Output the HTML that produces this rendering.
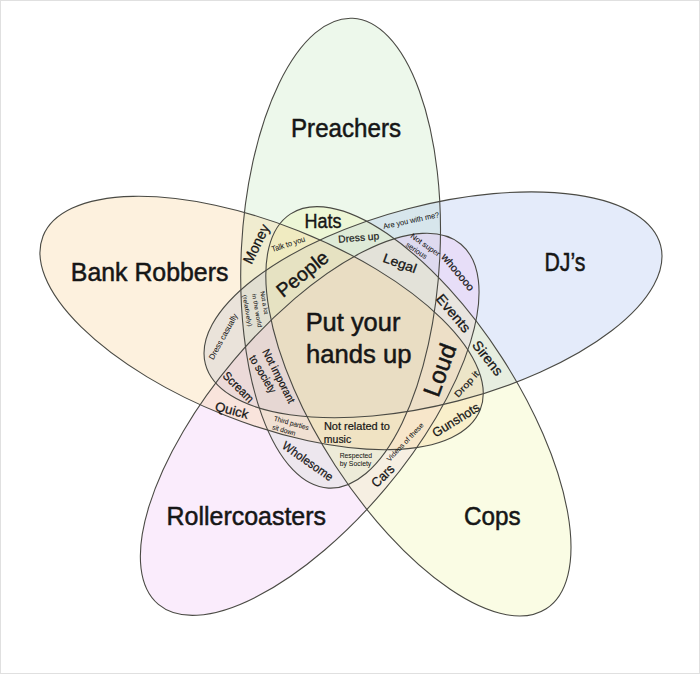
<!DOCTYPE html><html><head><meta charset="utf-8"><style>
html,body{margin:0;padding:0;background:#fff;width:700px;height:674px;overflow:hidden}
svg{display:block}
text{font-family:"Liberation Sans",sans-serif;fill:#161616;stroke:#161616;text-anchor:middle}
</style></head><body>
<svg width="700" height="674" viewBox="0 0 700 674">
<rect x="0" y="0" width="700" height="674" fill="#fff"/>
<g style="isolation:isolate"><ellipse cx="340.6" cy="253.2" rx="235.2" ry="99.3" transform="rotate(92.95 340.6 253.2)" fill="rgb(195,232,188)" fill-opacity="0.3"/><ellipse cx="433.0" cy="304.8" rx="235.2" ry="99.3" transform="rotate(-14.61 433.0 304.8)" fill="rgb(165,188,238)" fill-opacity="0.3"/><ellipse cx="309.7" cy="424.3" rx="235.2" ry="99.3" transform="rotate(-49.96 309.7 424.3)" fill="rgb(238,192,245)" fill-opacity="0.3"/><ellipse cx="418.4" cy="411.3" rx="235.2" ry="99.3" transform="rotate(57.09 418.4 411.3)" fill="rgb(238,245,165)" fill-opacity="0.3"/><ellipse cx="261.6" cy="323.0" rx="235.2" ry="99.3" transform="rotate(21.65 261.6 323.0)" fill="rgb(248,208,145)" fill-opacity="0.3"/></g>
<g fill="none" stroke="#4a4a44" stroke-width="1.1"><ellipse cx="340.6" cy="253.2" rx="235.2" ry="99.3" transform="rotate(92.95 340.6 253.2)"/><ellipse cx="433.0" cy="304.8" rx="235.2" ry="99.3" transform="rotate(-14.61 433.0 304.8)"/><ellipse cx="418.4" cy="411.3" rx="235.2" ry="99.3" transform="rotate(57.09 418.4 411.3)"/><ellipse cx="309.7" cy="424.3" rx="235.2" ry="99.3" transform="rotate(-49.96 309.7 424.3)"/><ellipse cx="261.6" cy="323.0" rx="235.2" ry="99.3" transform="rotate(21.65 261.6 323.0)"/></g>
<g lengthAdjust="spacingAndGlyphs">
<text transform="translate(346.0 137.0)" font-size="25" stroke-width="0.50" lengthAdjust="spacingAndGlyphs" textLength="110.0">Preachers</text>
<text transform="translate(149.6 280.9)" font-size="26" stroke-width="0.52" lengthAdjust="spacingAndGlyphs" textLength="157.6">Bank Robbers</text>
<text transform="translate(565.0 270.5)" font-size="25.5" stroke-width="0.51" lengthAdjust="spacingAndGlyphs" textLength="41.0">DJ’s</text>
<text transform="translate(246.3 525.3)" font-size="26" stroke-width="0.52" lengthAdjust="spacingAndGlyphs" textLength="159.4">Rollercoasters</text>
<text transform="translate(492.4 525.2)" font-size="26" stroke-width="0.52" lengthAdjust="spacingAndGlyphs" textLength="56.6">Cops</text>
<text transform="translate(353.0 330.8)" font-size="25" stroke-width="0.50" lengthAdjust="spacingAndGlyphs" textLength="94.7">Put your</text>
<text transform="translate(358.7 363.3)" font-size="25" stroke-width="0.50" lengthAdjust="spacingAndGlyphs" textLength="105.4">hands up</text>
<text transform="translate(323.0 227.5)" font-size="19.5" stroke-width="0.39" lengthAdjust="spacingAndGlyphs" textLength="37.0">Hats</text>
<text transform="translate(302.2 273.5) rotate(-39)" y="7.02" font-size="19.5" stroke-width="0.39" lengthAdjust="spacingAndGlyphs" textLength="61.0">People</text>
<text transform="translate(439.4 369.8) rotate(-70)" y="8.64" font-size="24" stroke-width="0.48" lengthAdjust="spacingAndGlyphs" textLength="54.0">Loud</text>
<text transform="translate(256.1 243.8) rotate(-64)" y="5.22" font-size="14.5" stroke-width="0.29" lengthAdjust="spacingAndGlyphs" textLength="42.0">Money</text>
<text transform="translate(400.0 263.0) rotate(20)" y="4.68" font-size="13" stroke-width="0.26" lengthAdjust="spacingAndGlyphs" textLength="34.7">Legal</text>
<text transform="translate(453.6 313.1) rotate(50)" y="5.04" font-size="14" stroke-width="0.28" lengthAdjust="spacingAndGlyphs" textLength="45.0">Events</text>
<text transform="translate(487.9 357.9) rotate(52)" y="5.04" font-size="14" stroke-width="0.28" lengthAdjust="spacingAndGlyphs" textLength="40.0">Sirens</text>
<text transform="translate(455.8 419.7) rotate(-32)" y="4.68" font-size="13" stroke-width="0.26" lengthAdjust="spacingAndGlyphs" textLength="53.0">Gunshots</text>
<text transform="translate(382.6 475.6) rotate(-45)" y="4.86" font-size="13.5" stroke-width="0.27" lengthAdjust="spacingAndGlyphs" textLength="26.0">Cars</text>
<text transform="translate(308.0 461.0) rotate(35)" y="4.32" font-size="12" stroke-width="0.24" lengthAdjust="spacingAndGlyphs" textLength="59.0">Wholesome</text>
<text transform="translate(232.0 410.0) rotate(15)" y="4.68" font-size="13" stroke-width="0.26" lengthAdjust="spacingAndGlyphs" textLength="34.0">Quick</text>
<text transform="translate(238.6 386.9) rotate(45)" y="4.32" font-size="12" stroke-width="0.24" lengthAdjust="spacingAndGlyphs" textLength="38.0">Scream</text>
<text transform="translate(279.0 376.0) rotate(63)" y="3.96" font-size="11" stroke-width="0.22" lengthAdjust="spacingAndGlyphs" textLength="59.0">Not imporant</text>
<text transform="translate(263.0 374.0) rotate(59)" y="3.96" font-size="11" stroke-width="0.22" lengthAdjust="spacingAndGlyphs" textLength="42.0">to society</text>
<text transform="translate(458.0 272.0) rotate(50)" y="3.78" font-size="10.5" stroke-width="0.21" lengthAdjust="spacingAndGlyphs" textLength="45.0">whooooo</text>
<text transform="translate(288.2 243.9) rotate(-18)" y="2.88" font-size="8" stroke-width="0.05" lengthAdjust="spacingAndGlyphs" textLength="35.0">Talk to you</text>
<text transform="translate(359.0 241.0) rotate(-5)" font-size="10" stroke-width="0.20" lengthAdjust="spacingAndGlyphs" textLength="41.0">Dress up</text>
<text transform="translate(411.0 220.4) rotate(-12)" y="2.70" font-size="7.5" stroke-width="0.05" lengthAdjust="spacingAndGlyphs" textLength="57.0">Are you with me?</text>
<text transform="translate(425.5 244.9) rotate(35)" y="2.70" font-size="7.5" stroke-width="0.05" lengthAdjust="spacingAndGlyphs" textLength="34.0">Not super</text>
<text transform="translate(416.6 250.5) rotate(34)" y="2.70" font-size="7.5" stroke-width="0.05" lengthAdjust="spacingAndGlyphs" textLength="24.0">serious</text>
<text transform="translate(466.5 384.0) rotate(-48)" y="3.24" font-size="9" stroke-width="0.18" lengthAdjust="spacingAndGlyphs" textLength="32.0">Drop it</text>
<text transform="translate(356.9 429.5)" font-size="10" stroke-width="0.20" lengthAdjust="spacingAndGlyphs" textLength="66.0">Not related to</text>
<text transform="translate(337.5 443.4)" font-size="10" stroke-width="0.20" lengthAdjust="spacingAndGlyphs" textLength="27.3">music</text>
<text transform="translate(355.9 457.9)" font-size="7.3" stroke-width="0.05" lengthAdjust="spacingAndGlyphs" textLength="32.5">Respected</text>
<text transform="translate(355.5 465.7)" font-size="7.3" stroke-width="0.05" lengthAdjust="spacingAndGlyphs" textLength="31.6">by Society</text>
<text transform="translate(405.0 442.0) rotate(-46.5)" y="2.52" font-size="7" stroke-width="0.05" lengthAdjust="spacingAndGlyphs" textLength="50.0">Videos of these</text>
<text transform="translate(291.5 423.0) rotate(16)" y="2.52" font-size="7" stroke-width="0.05" lengthAdjust="spacingAndGlyphs" textLength="36.0">Third parties</text>
<text transform="translate(284.0 430.0) rotate(16)" y="2.52" font-size="7" stroke-width="0.05" lengthAdjust="spacingAndGlyphs" textLength="24.0">sit down</text>
<text transform="translate(223.0 336.5) rotate(-61)" y="2.88" font-size="8" stroke-width="0.05" lengthAdjust="spacingAndGlyphs" textLength="51.0">Dress casually</text>
<text transform="translate(264.5 302.8) rotate(80)" y="2.16" font-size="6" stroke-width="0.05" lengthAdjust="spacingAndGlyphs" textLength="23.0">Not a lot</text>
<text transform="translate(257.2 310.6) rotate(80)" y="2.16" font-size="6" stroke-width="0.05" lengthAdjust="spacingAndGlyphs" textLength="34.0">in the world</text>
<text transform="translate(247.4 310.6) rotate(80)" y="2.16" font-size="6" stroke-width="0.05" lengthAdjust="spacingAndGlyphs" textLength="32.0">(relatively)</text>
</g>
<rect x="0.5" y="0.5" width="699" height="673" fill="none" stroke="#e0e0e0" stroke-width="1"/>
</svg></body></html>
